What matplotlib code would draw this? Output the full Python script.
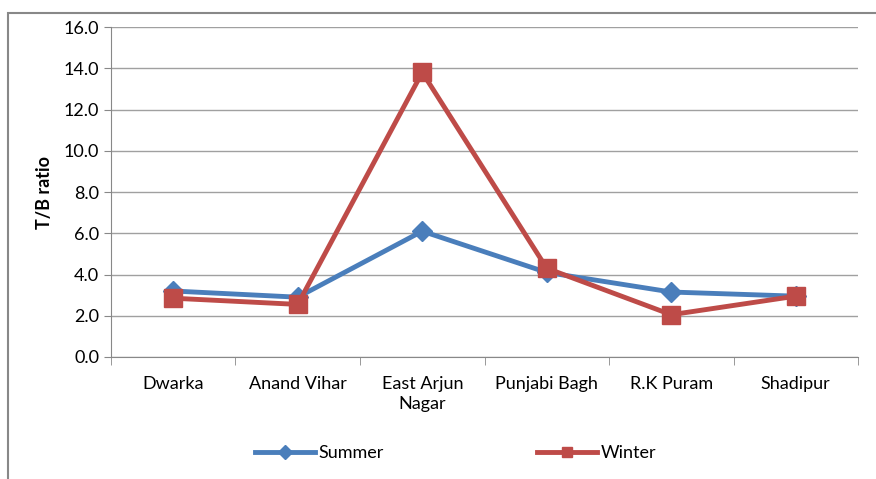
import matplotlib.pyplot as plt
import matplotlib.patches as mpatches
import numpy as np

plt.rcParams['font.family'] = ['Lato', 'DejaVu Sans']

sites = ["Dwarka", "Anand Vihar", "East Arjun\nNagar", "Punjabi Bagh", "R.K Puram", "Shadipur"]
summer = [3.2, 2.9, 6.1, 4.1, 3.15, 2.95]
winter = [2.85, 2.55, 13.8, 4.3, 2.05, 2.95]

fig = plt.figure(figsize=(8.76, 4.79), dpi=100)
ax = fig.add_axes([0.1267, 0.2547, 0.8528, 0.6889])

# outer chart frame
fig.patches.append(mpatches.Rectangle((8 / 876, -0.1), 1.2, 1 - 13 / 479 + 0.1,
                                      transform=fig.transFigure, fill=False,
                                      edgecolor="#888888", linewidth=1.5))

x = np.arange(len(sites))
ax.plot(x, summer, color="#4a7ebb", lw=3.5, marker="D", markersize=10, label="Summer")
ax.plot(x, winter, color="#be4b48", lw=3.5, marker="s", markersize=13, label="Winter")

ax.set_xlim(-0.5, len(sites) - 0.5)
ax.set_ylim(0, 16)
ax.set_yticks(np.arange(0, 17, 2))
ax.set_yticklabels([f"{v:.1f}" for v in np.arange(0, 17, 2)], fontsize=13)
ax.set_xticks(x)
ax.set_xticklabels(sites, fontsize=13, linespacing=1.3)
ax.tick_params(axis="x", length=0, pad=14)
ax.set_xticks(np.arange(-0.5, len(sites), 1), minor=True)
ax.tick_params(axis="x", which="minor", length=6, color="#888888")
ax.tick_params(axis="y", length=5, color="#888888")
ax.grid(axis="y", color="#a0a0a0", lw=1)
ax.set_axisbelow(True)
for s in ["top", "right"]:
    ax.spines[s].set_visible(False)
for s in ["left", "bottom"]:
    ax.spines[s].set_color("#888888")
ax.set_ylabel("T/B ratio", fontsize=13, fontweight="bold", labelpad=8)

leg = fig.legend(loc="center", bbox_to_anchor=(0.52, 1 - 453 / 479), ncol=2, frameon=False,
                 fontsize=13, columnspacing=8.5, handlelength=3.3, handletextpad=0.2)
for h in leg.legend_handles:
    h.set_markersize(7)
    h.set_linewidth(3.5)

fig.savefig("out.png", dpi=100)
